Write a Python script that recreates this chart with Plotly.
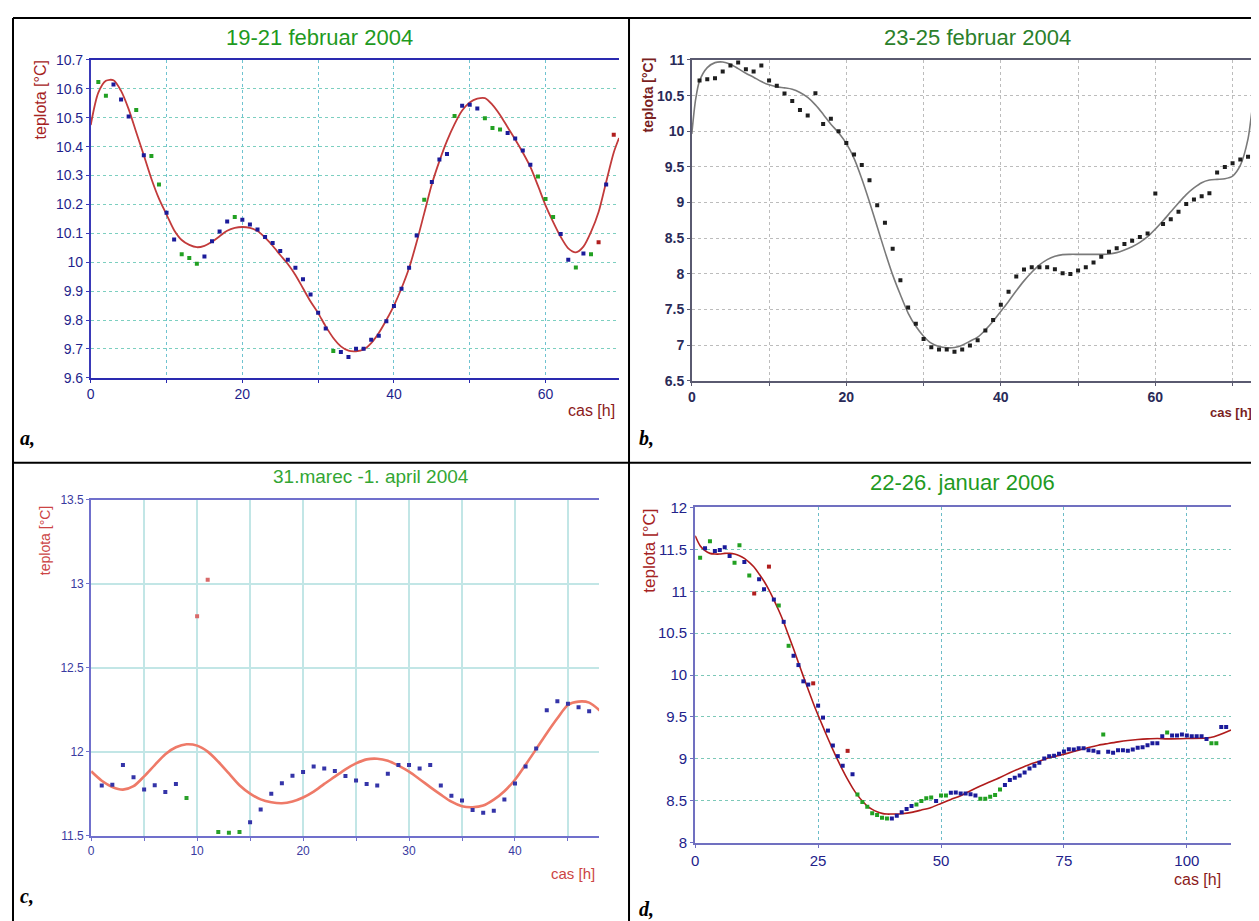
import plotly.graph_objects as go

# Screen placement measured from earlier renders: the page shows the figure shifted by
# (11 px, 16 px) and squeezed vertically by 0.982, so positions below are given in
# screen pixels of the 1259x921 picture and converted to paper coordinates.
SX, SY, KY = 11, 16, 0.982
W, H = 1259 - SX, 921

# ---------------- Panel a: 19-21 februar 2004 ----------------
a_title = "19-21 februar 2004"
a_blue_x = [3, 4, 5, 7, 10, 11, 15, 16, 17, 18, 20, 21, 22, 23, 24, 25, 26, 27, 28, 29, 30, 31, 33, 34, 35, 36,
            37, 38, 39, 40, 41, 42, 43, 45, 46, 47, 49, 50, 51, 55, 56, 57, 58, 62, 63, 65, 68]
a_blue_y = [10.615, 10.563, 10.504, 10.370, 10.171, 10.079, 10.020, 10.073, 10.106, 10.141, 10.147, 10.131,
            10.113, 10.087, 10.067, 10.039, 10.009, 9.981, 9.941, 9.888, 9.825, 9.771, 9.689, 9.672, 9.701,
            9.701, 9.732, 9.746, 9.796, 9.849, 9.908, 9.981, 10.093, 10.278, 10.356, 10.375, 10.542, 10.545,
            10.532, 10.447, 10.428, 10.387, 10.337, 10.098, 10.009, 10.030, 10.269]
a_green_x = [1, 2, 6, 8, 9, 12, 13, 14, 19, 32, 44, 48, 52, 53, 54, 59, 60, 61, 64, 66]
a_green_y = [10.624, 10.576, 10.527, 10.368, 10.269, 10.028, 10.015, 9.995, 10.157, 9.693, 10.216, 10.506,
             10.498, 10.465, 10.459, 10.297, 10.219, 10.157, 9.982, 10.028]
a_red_x = [67, 69]
a_red_y = [10.069, 10.441]
a_curve_x = [0, 1, 2, 3, 4, 5, 6, 7, 8, 9, 10, 11, 12, 13, 14, 15, 16, 17, 18, 19, 20, 21, 22, 23, 24, 25,
             26, 27, 28, 29, 30, 31, 32, 33, 34, 35, 36, 37, 38, 39, 40, 41, 42, 43, 44, 45, 46, 47, 48, 49,
             50, 51, 52, 53, 54, 55, 56, 57, 58, 59, 60, 61, 62, 63, 64, 65, 66, 67, 68, 69, 69.7]
a_curve_y = [10.475, 10.587, 10.628, 10.63, 10.593, 10.53, 10.45, 10.37, 10.289, 10.22, 10.165, 10.111,
             10.077, 10.06, 10.052, 10.057, 10.071, 10.09, 10.109, 10.119, 10.122, 10.119, 10.108, 10.085,
             10.057, 10.025, 9.994, 9.956, 9.91, 9.864, 9.824, 9.778, 9.738, 9.709, 9.694, 9.692, 9.698,
             9.72, 9.755, 9.80, 9.85, 9.91, 9.98, 10.07, 10.17, 10.27, 10.35, 10.42, 10.478, 10.525, 10.553,
             10.566, 10.568, 10.545, 10.51, 10.467, 10.425, 10.38, 10.33, 10.265, 10.197, 10.14, 10.088,
             10.048, 10.034, 10.054, 10.105, 10.174, 10.278, 10.38, 10.43]
a_xticks = [0, 10, 20, 30, 40, 50, 60]
a_xtext = ["0", "", "20", "", "40", "", "60"]
a_yticks = [9.6, 9.7, 9.8, 9.9, 10.0, 10.1, 10.2, 10.3, 10.4, 10.5, 10.6, 10.7]
a_ytext = ["9.6", "9.7", "9.8", "9.9", "10", "10.1", "10.2", "10.3", "10.4", "10.5", "10.6", "10.7"]

# ---------------- Panel b: 23-25 februar 2004 ----------------
b_title = "23-25 februar 2004"
b_x = [1, 2, 3, 4, 5, 6, 7, 8, 9, 10, 11, 12, 13, 14, 15, 16, 17, 18, 19, 20, 21, 22, 23, 24, 25, 26, 27,
       28, 29, 30, 31, 32, 33, 34, 35, 36, 37, 38, 39, 40, 41, 42, 43, 44, 45, 46, 47, 48, 49, 50, 51, 52,
       53, 54, 55, 56, 57, 58, 59, 60, 61, 62, 63, 64, 65, 66, 67, 68, 69, 70, 71, 72]
b_y = [10.712, 10.730, 10.744, 10.837, 10.921, 10.963, 10.870, 10.837, 10.921, 10.712, 10.637, 10.530,
       10.423, 10.298, 10.223, 10.535, 10.102, 10.177, 10.0, 9.837, 9.674, 9.526, 9.312, 8.963, 8.716,
       8.353, 7.912, 7.530, 7.302, 7.088, 6.972, 6.940, 6.940, 6.907, 6.940, 6.995, 7.070, 7.205, 7.353,
       7.567, 7.749, 7.963, 8.060, 8.093, 8.093, 8.093, 8.065, 8.009, 8.0, 8.047, 8.093, 8.158, 8.242,
       8.312, 8.358, 8.419, 8.465, 8.516, 8.567, 9.126, 8.698, 8.767, 8.870, 8.981, 9.042, 9.088, 9.130,
       9.423, 9.498, 9.553, 9.605, 9.642]
b_curve_x = [0, 0.5, 1, 2, 3, 4, 5, 6, 7, 8, 9, 10, 11, 12, 13, 14, 15, 16, 17, 18, 19, 20, 21, 22, 23, 24,
             25, 26, 27, 28, 29, 30, 31, 32, 33, 34, 35, 36, 37, 38, 39, 40, 41, 42, 43, 44, 45, 46, 47, 48,
             49, 50, 51, 52, 53, 54, 55, 56, 57, 58, 59, 60, 61, 62, 63, 64, 65, 66, 67, 68, 69, 70, 71, 72,
             72.6, 73.1]
b_curve_y = [9.963, 10.45, 10.707, 10.893, 10.963, 10.972, 10.94, 10.879, 10.814, 10.758, 10.698, 10.651,
             10.623, 10.609, 10.59, 10.544, 10.474, 10.37, 10.24, 10.10, 9.98, 9.83, 9.62, 9.335, 9.009,
             8.66, 8.312, 7.986, 7.707, 7.451, 7.265, 7.126, 7.028, 6.981, 6.963, 6.967, 7.0, 7.056, 7.112,
             7.214, 7.335, 7.474, 7.614, 7.763, 7.902, 8.023, 8.126, 8.2, 8.247, 8.27, 8.274, 8.274, 8.274,
             8.274, 8.274, 8.279, 8.298, 8.335, 8.381, 8.442, 8.521, 8.628, 8.744, 8.87, 8.995, 9.112, 9.205,
             9.279, 9.316, 9.326, 9.335, 9.372, 9.521, 9.893, 10.358, 10.62]
b_xticks = [0, 10, 20, 30, 40, 50, 60, 70]
b_xtext = ["0", "", "20", "", "40", "", "60", ""]
b_yticks = [6.5, 7, 7.5, 8, 8.5, 9, 9.5, 10, 10.5, 11]
b_ytext = ["6.5", "7", "7.5", "8", "8.5", "9", "9.5", "10", "10.5", "11"]

# ---------------- Panel c: 31.marec -1. april 2004 ----------------
c_title = "31.marec -1. april 2004"
c_blue_x = [1, 2, 3, 4, 5, 6, 7, 8, 15, 16, 17, 18, 19, 20, 21, 22, 23, 24, 25, 26, 27, 28, 29, 30, 31, 32,
            33, 34, 35, 36, 37, 38, 39, 40, 41, 42, 43, 44, 45, 46, 47]
c_blue_y = [11.798, 11.803, 11.92, 11.847, 11.774, 11.80, 11.76, 11.807, 11.58, 11.655, 11.75, 11.812,
            11.857, 11.879, 11.912, 11.90, 11.885, 11.855, 11.828, 11.808, 11.798, 11.869, 11.92, 11.92,
            11.90, 11.92, 11.798, 11.737, 11.709, 11.652, 11.636, 11.648, 11.715, 11.81, 11.912, 12.019,
            12.246, 12.30, 12.286, 12.264, 12.24]
c_green_x = [9, 12, 13, 14]
c_green_y = [11.724, 11.521, 11.517, 11.521]
c_red_x = [10, 11]
c_red_y = [12.806, 13.024]
c_curve_x = [0, 1, 2, 3, 4, 5, 6, 7, 8, 9, 10, 11, 12, 13, 14, 15, 16, 17, 18, 19, 20, 21, 22, 23, 24, 25,
             26, 27, 28, 29, 30, 31, 32, 33, 34, 35, 36, 37, 38, 39, 40, 41, 42, 43, 44, 45, 46, 47, 48]
c_curve_y = [11.883, 11.827, 11.79, 11.774, 11.794, 11.853, 11.92, 11.985, 12.026, 12.044, 12.036, 12.0,
             11.94, 11.87, 11.8, 11.75, 11.716, 11.699, 11.693, 11.703, 11.727, 11.762, 11.808, 11.851,
             11.895, 11.93, 11.954, 11.958, 11.946, 11.917, 11.881, 11.836, 11.789, 11.744, 11.702, 11.675,
             11.669, 11.679, 11.714, 11.764, 11.833, 11.922, 12.015, 12.11, 12.199, 12.278, 12.298, 12.292,
             12.245]
c_xticks = [0, 5, 10, 15, 20, 25, 30, 35, 40, 45]
c_xtext = ["0", "", "10", "", "20", "", "30", "", "40", ""]
c_yticks = [11.5, 12, 12.5, 13, 13.5]
c_ytext = ["11.5", "12", "12.5", "13", "13.5"]

# ---------------- Panel d: 22-26. januar 2006 ----------------
d_title = "22-26. januar 2006"
d_blue_x = [2, 4, 5, 6, 7, 10, 13, 14, 16, 18, 20, 21, 22, 23, 25, 26, 27, 28, 29, 30, 32, 40, 41, 42, 43,
            44, 49, 52, 53, 54, 55, 56, 57, 63, 64, 65, 66, 67, 68, 69, 70, 71, 72, 73, 74, 75, 76, 77, 78,
            79, 80, 81, 82, 84, 85, 86, 87, 88, 89, 90, 91, 92, 93, 94, 95, 97, 98, 99, 100, 101, 102, 103,
            104, 107, 108]
d_blue_y = [11.512, 11.481, 11.492, 11.524, 11.421, 11.35, 11.143, 11.024, 10.901, 10.635, 10.23, 10.119,
            9.925, 9.886, 9.635, 9.492, 9.337, 9.159, 9.032, 8.917, 8.817, 8.289, 8.321, 8.361, 8.40, 8.436,
            8.496, 8.595, 8.599, 8.587, 8.587, 8.576, 8.563, 8.687, 8.746, 8.774, 8.802, 8.838, 8.885, 8.917,
            8.953, 9.005, 9.032, 9.036, 9.06, 9.087, 9.115, 9.111, 9.127, 9.127, 9.103, 9.095, 9.079, 9.083,
            9.072, 9.103, 9.103, 9.095, 9.111, 9.131, 9.139, 9.163, 9.186, 9.186, 9.27, 9.278, 9.278, 9.29,
            9.278, 9.27, 9.27, 9.27, 9.238, 9.381, 9.381]
d_green_x = [1, 3, 8, 9, 11, 17, 19, 33, 34, 35, 36, 37, 38, 39, 45, 46, 47, 48, 50, 51, 58, 59, 60, 61, 62,
             83, 96, 105, 106]
d_green_y = [11.401, 11.596, 11.341, 11.548, 11.187, 10.83, 10.349, 8.575, 8.484, 8.428, 8.349, 8.329, 8.297,
             8.289, 8.456, 8.496, 8.528, 8.539, 8.563, 8.563, 8.524, 8.524, 8.547, 8.567, 8.635, 9.29, 9.313,
             9.186, 9.186]
d_red_x = [12, 15, 24, 31]
d_red_y = [10.972, 11.294, 9.901, 9.095]
d_curve_x = [0, 1, 2, 3, 4, 5, 6, 7, 8, 9, 10, 11, 12, 13, 14, 15, 16, 17, 18, 19, 20, 21, 22, 23, 24, 25,
             26, 27, 28, 29, 30, 31, 32, 33, 34, 35, 36, 37, 38, 39, 40, 41, 42, 44, 46, 48, 50, 52, 54, 56,
             58, 60, 62, 64, 66, 68, 70, 72, 74, 76, 78, 80, 82, 84, 86, 88, 90, 92, 94, 96, 100, 104.8, 109]
d_curve_y = [11.663, 11.544, 11.484, 11.452, 11.444, 11.444, 11.452, 11.452, 11.444, 11.425, 11.393, 11.345,
             11.286, 11.206, 11.119, 11.016, 10.897, 10.77, 10.631, 10.472, 10.313, 10.147, 9.984, 9.825,
             9.667, 9.52, 9.381, 9.242, 9.11, 8.984, 8.865, 8.754, 8.654, 8.567, 8.496, 8.436, 8.397, 8.369,
             8.349, 8.341, 8.341, 8.341, 8.345, 8.361, 8.389, 8.42, 8.468, 8.516, 8.56, 8.619, 8.675, 8.726,
             8.778, 8.833, 8.885, 8.933, 8.972, 9.012, 9.04, 9.071, 9.103, 9.135, 9.163, 9.183, 9.202, 9.218,
             9.23, 9.238, 9.242, 9.238, 9.243, 9.254, 9.345]
d_xticks = [0, 25, 50, 75, 100]
d_xtext = ["0", "25", "50", "75", "100"]
d_yticks = [8, 8.5, 9, 9.5, 10, 10.5, 11, 11.5, 12]
d_ytext = ["8", "8.5", "9", "9.5", "10", "10.5", "11", "11.5", "12"]

FONT = "Liberation Sans, Arial, sans-serif"


def PX(x):
    # x in screen pixels -> paper fraction
    return min(max((x - SX) / W, 0.0), 1.0)


def PY(y):
    return min(max(1 - ((y - SY) / KY) / H, 0.0), 1.0)


fig = go.Figure()


def add_pts(x, y, color, ax, size=4):
    fig.add_trace(go.Scatter(x=x, y=y, mode="markers", xaxis=ax[0], yaxis=ax[1],
                             marker=dict(symbol="square", size=size, color=color, line=dict(width=0)),
                             showlegend=False, hoverinfo="skip"))


def add_curve(x, y, color, width, ax):
    fig.add_trace(go.Scatter(x=x, y=y, mode="lines", xaxis=ax[0], yaxis=ax[1],
                             line=dict(color=color, width=width, shape="spline", smoothing=0.8),
                             showlegend=False, hoverinfo="skip"))


# panel a
add_curve(a_curve_x, a_curve_y, "#c23b3b", 1.8, ("x", "y"))
add_pts(a_blue_x, a_blue_y, "#1b1b9a", ("x", "y"))
add_pts(a_green_x, a_green_y, "#22a022", ("x", "y"))
add_pts(a_red_x, a_red_y, "#b01e1e", ("x", "y"))
# panel b
add_curve(b_curve_x, b_curve_y, "#7a7a7a", 1.6, ("x2", "y2"))
add_pts(b_x, b_y, "#1e1e1e", ("x2", "y2"), size=4)
# panel c
add_curve(c_curve_x, c_curve_y, "#ee7a68", 2.6, ("x3", "y3"))
add_pts(c_blue_x, c_blue_y, "#3434a8", ("x3", "y3"))
add_pts(c_green_x, c_green_y, "#2aa02a", ("x3", "y3"))
add_pts(c_red_x, c_red_y, "#d86a6a", ("x3", "y3"))
# panel d
add_curve(d_curve_x, d_curve_y, "#b01c1c", 1.6, ("x4", "y4"))
add_pts(d_blue_x, d_blue_y, "#1b1b9a", ("x4", "y4"))
add_pts(d_green_x, d_green_y, "#22a022", ("x4", "y4"))
add_pts(d_red_x, d_red_y, "#b01e1e", ("x4", "y4"))


def axis(domain, rng, tv, tt, lc, lw, gc, gd, gw, tf, mirror, anchor):
    return dict(domain=domain, range=rng, tickmode="array", tickvals=tv, ticktext=tt,
                showline=True, linecolor=lc, linewidth=lw, mirror=mirror,
                showgrid=True, gridcolor=gc, griddash=gd, gridwidth=gw,
                zeroline=False, ticks="outside", ticklen=3, tickcolor=lc,
                tickfont=tf, anchor=anchor, fixedrange=True)


fa = dict(family=FONT, size=14, color="#1f1f8c")
fb = dict(family=FONT, size=14, color="#2a2a58", weight="bold")
fc = dict(family=FONT, size=12, color="#3a3aa0")
fd = dict(family=FONT, size=15, color="#22228a")

# panel b runs off the right edge of the page (7.75 px per hour from x=693)
b_xmax = (1259 - 693) / 7.75

layout = dict(
    width=W, height=H, margin=dict(l=0, r=0, t=0, b=0),
    paper_bgcolor="white", plot_bgcolor="white", showlegend=False,
    xaxis=axis([PX(90), PX(620)], [0, 69.7], a_xticks, a_xtext, "#2a2ab0", 1.6, "#6fc3d0", "dot", 1, fa, True, "y"),
    yaxis=axis([PY(377), PY(59)], [9.6, 10.7], a_yticks, a_ytext, "#3a3ab8", 1.6, "#7ccfc0", "dot", 1, fa, False, "x"),
    xaxis2=axis([PX(693), 1.0], [0, b_xmax], b_xticks, b_xtext, "#5a5a70", 1.6, "#bcbcbc", "dot", 1, fb, True, "y2"),
    yaxis2=axis([PY(380), PY(59)], [6.5, 11], b_yticks, b_ytext, "#5a5a70", 1.6, "#bcbcbc", "dot", 1, fb, False, "x2"),
    xaxis3=axis([PX(90.4), PX(600)], [0, 47.94], c_xticks, c_xtext, "#7070cc", 2, "#c2e6e6", "solid", 1.5, fc, True, "y3"),
    yaxis3=axis([PY(835), PY(499)], [11.5, 13.5], c_yticks, c_ytext, "#7070cc", 2, "#c2e6e6", "solid", 1.5, fc, False, "x3"),
    xaxis4=axis([PX(696.4), PX(1234)], [0, 109], d_xticks, d_xtext, "#7070c0", 2.2, "#6cbcc8", "dot", 1, fd, True, "y4"),
    yaxis4=axis([PY(842), PY(506.7)], [8, 12], d_yticks, d_ytext, "#7070c0", 2.2, "#7cc8b8", "dot", 1, fd, False, "x4"),
)
fig.update_layout(**layout)

ann = []


def text(x, y, s, size, color, xanchor="center", yanchor="middle", angle=0, family=FONT, weight="normal"):
    ann.append(dict(x=PX(x), y=PY(y), xref="paper", yref="paper", text=s, showarrow=False,
                    xanchor=xanchor, yanchor=yanchor, textangle=angle,
                    font=dict(family=family, size=size, color=color, weight=weight)))


# titles
text(319, 37, a_title, 22, "#1f9a1f")
text(980, 37, b_title, 22, "#2b7f2b")
text(371, 476, c_title, 19, "#33a633")
text(965, 482, d_title, 22, "#1f9a1f")
# y-axis labels
text(40, 57, "teplota [°C]", 16, "#a52222", yanchor="top", angle=-90)
text(650, 54, "teplota [°C]", 14, "#7a1f1f", yanchor="top", angle=-90, weight="bold")
text(44, 503, "teplota [°C]", 14, "#cc4444", yanchor="top", angle=-90)
text(651, 506, "teplota [°C]", 17, "#a52222", yanchor="top", angle=-90)
# x-axis labels
text(618, 410, "cas [h]", 16, "#8b1a1a", xanchor="right")
text(1257, 412, "cas [h]", 13, "#7a1f1f", xanchor="right", weight="bold")
text(598, 873, "cas [h]", 15, "#cc4444", xanchor="right")
text(1226, 879, "cas [h]", 16, "#8b1a1a", xanchor="right")
# panel letters
SERIF = "Liberation Serif, Times New Roman, serif"
text(17, 437, "<b><i>a,</i></b>", 20, "black", xanchor="left", family=SERIF)
text(638, 437, "<b><i>b,</i></b>", 20, "black", xanchor="left", family=SERIF)
text(17, 895, "<b><i>c,</i></b>", 20, "black", xanchor="left", family=SERIF)
text(638, 908, "<b><i>d,</i></b>", 20, "black", xanchor="left", family=SERIF)

fig.update_layout(annotations=ann)

# table borders (the top and left ones sit at the very edge of what the page shows)
shapes = []
for (x0, y0, x1, y1) in [(12, 17, 1259, 17), (12, 17, 12, 921), (630, 17, 630, 921), (12, 462, 1259, 462)]:
    shapes.append(dict(type="line", xref="paper", yref="paper", x0=PX(x0), y0=PY(y0), x1=PX(x1), y1=PY(y1),
                       line=dict(color="black", width=2)))
fig.update_layout(shapes=shapes)

fig.write_html("out.html")
